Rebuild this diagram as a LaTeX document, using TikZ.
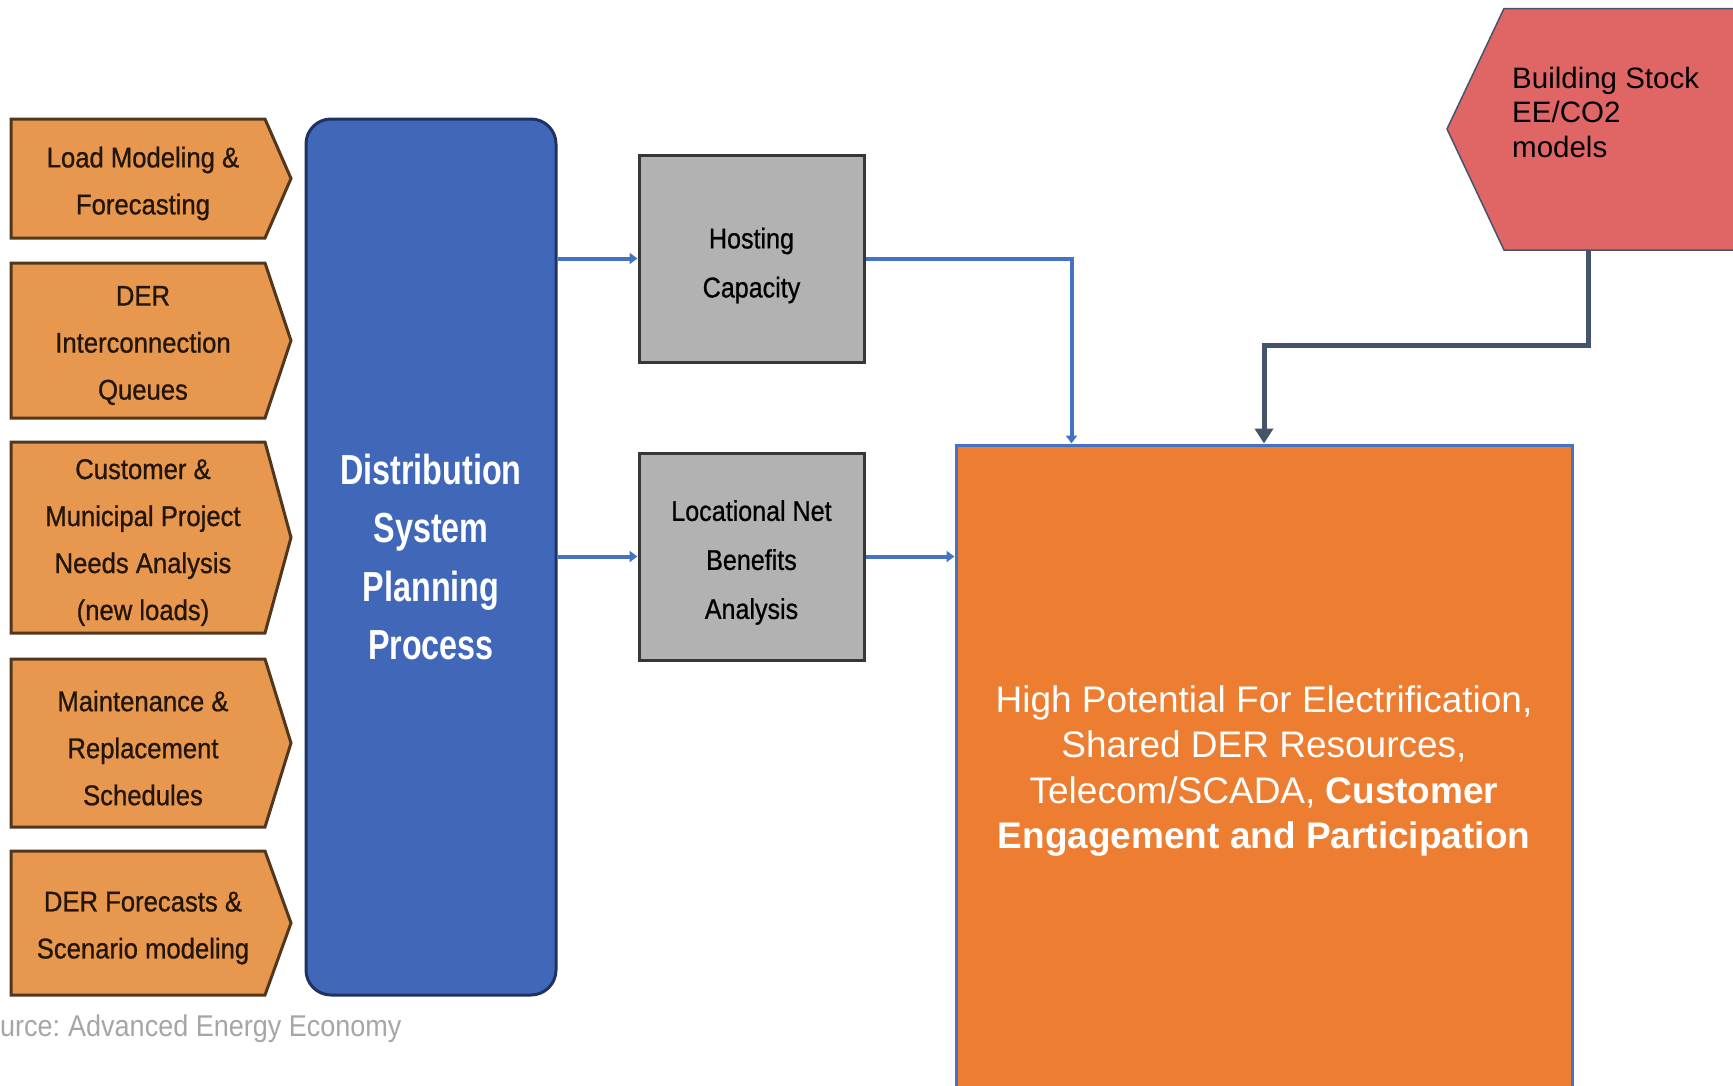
\documentclass[tikz,border=0pt]{standalone}
\usepackage{fontspec}
\setmainfont{Liberation Sans}
\newfontfamily\inputfont[FakeStretch=0.9,FakeBold=0.8]{Liberation Sans}
\newfontfamily\dspfont[FakeStretch=0.77]{Liberation Sans}
\newfontfamily\grayfont[FakeStretch=0.88,FakeBold=0.8]{Liberation Sans}
\newfontfamily\srcfont[FakeStretch=0.9]{Liberation Sans}
\usetikzlibrary{arrows.meta}
\definecolor{inFill}{RGB}{231,151,78}
\definecolor{inDraw}{RGB}{80,55,30}
\definecolor{inText}{RGB}{35,22,8}
\definecolor{dspFill}{RGB}{65,103,185}
\definecolor{dspDraw}{RGB}{30,50,100}
\definecolor{grayFill}{RGB}{178,178,178}
\definecolor{grayDraw}{RGB}{55,55,55}
\definecolor{orFill}{RGB}{237,125,49}
\definecolor{orDraw}{RGB}{68,114,196}
\definecolor{redFill}{RGB}{224,102,102}
\definecolor{slate}{RGB}{68,84,106}
\definecolor{lineBlue}{RGB}{68,114,196}
\definecolor{srcGray}{RGB}{166,166,166}
\tikzset{
  inshape/.style={fill=inFill, draw=inDraw, line width=3pt, line join=miter},
  intext/.style={inner sep=0pt, align=center, text=inText, font=\inputfont\fontsize{28.5}{47}\selectfont},
  dspbox/.style={rectangle, rounded corners=25pt, fill=dspFill, draw=dspDraw, line width=3pt,
     minimum width=250pt, minimum height=876pt, inner sep=0pt, align=center, text=white,
     font=\dspfont\bfseries\fontsize{42}{58.5}\selectfont},
  graybox/.style={rectangle, fill=grayFill, draw=grayDraw, line width=3pt,
     minimum width=225pt, minimum height=207pt, inner sep=0pt},
  graytext/.style={inner sep=0pt, align=center, text=black, font=\grayfont\fontsize{28.5}{49}\selectfont},
  orbox/.style={rectangle, fill=orFill, draw=orDraw, line width=3pt,
     minimum width=616pt, minimum height=644pt, inner sep=0pt},
  ortext/.style={inner sep=0pt, align=center, text=white, font=\fontsize{37}{45.5}\selectfont},
  redshape/.style={fill=redFill, draw=slate, line width=1.5pt},
  redtext/.style={inner sep=0pt, align=left, text=black, font=\fontsize{29.5}{34.5}\selectfont},
  bluearrow/.style={draw=lineBlue, line width=4pt, -{Triangle[width=11pt,length=8pt]}},
  slatearrow/.style={draw=slate, line width=5pt, -{Triangle[width=18pt,length=15pt]}},
}
\newcommand{\inputbox}[4]{%
  \draw[inshape] (11,#2) -- (265,#2) -- (291,{(#2+#3)/2}) -- (265,#3) -- (11,#3) -- cycle;
  \node[intext] (#1) at (143,{(#2+#3)/2+5}) {#4};
}
\begin{document}
\begin{tikzpicture}[x=1pt, y=-1pt]
\useasboundingbox (0,0) rectangle (1733,1085);
\fill[white] (0,0) rectangle (1733,1085);

% input pentagons
\inputbox{lm}{119}{238}{Load Modeling \&\\Forecasting}
\inputbox{der}{263}{418}{DER\\Interconnection\\Queues}
\inputbox{cm}{442}{633}{Customer \&\\Municipal Project\\Needs Analysis\\(new loads)}
\inputbox{mr}{659}{827}{Maintenance \&\\Replacement\\Schedules}
\inputbox{df}{851}{995}{DER Forecasts \&\\Scenario modeling}

% distribution system planning process
\node[dspbox] (dsp) at (431,557) {Distribution\\System\\Planning\\Process};

% gray boxes
\node[graybox] (hc) at (751.5,258.5) {};
\node[graytext] (hct) at (751.5,265.5) {Hosting\\Capacity};
\node[graybox] (lnb) at (751.5,556.5) {};
\node[graytext] (lnbt) at (751.5,562.5) {Locational Net\\Benefits\\Analysis};

% orange box
\node[orbox] (hp) at (1264,767) {};
\node[ortext] (hpt) at (1264,771) {High Potential For Electrification,\\Shared DER Resources,\\Telecom/SCADA, \textbf{Customer}\\\textbf{Engagement and Participation}};

% red building stock shape
\draw[redshape] (1504,8.5) -- (1745,8.5) -- (1745,250) -- (1504,250) -- (1447,129) -- cycle;
\node[inner sep=0pt, minimum width=241pt, minimum height=241.5pt] (bsarea) at (1624.5,129.25) {};
\node[redtext, anchor=west] (bs) at (1512,112) {Building Stock\\EE/CO2\\models};

% connectors
\draw[bluearrow] (dsp.east |- hc.west) -- (hc.west);
\draw[bluearrow] (dsp.east |- lnb.west) -- (lnb.west);
\draw[bluearrow] (hc.east) -| ([xshift=117pt]hp.north west);
\draw[bluearrow] (lnb.east) -- (lnb.east -| hp.west);
\draw[slatearrow] ([xshift=85pt]bsarea.south west) -- ++(0,95) -| (hp.north);

% source
\node[inner sep=0pt, anchor=west, text=srcGray, font=\srcfont\fontsize{30}{34}\selectfont] (src) at (0,1029) {urce:\hspace{-2pt} Advanced Energy Economy};
\end{tikzpicture}
\end{document}
